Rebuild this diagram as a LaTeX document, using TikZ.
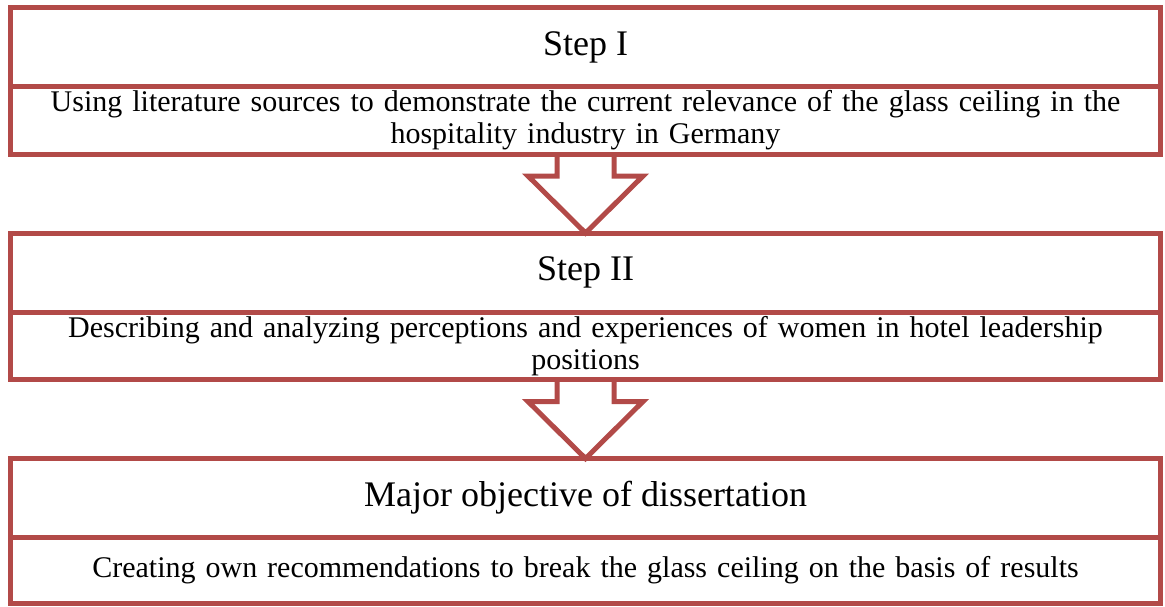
\documentclass[tikz,border=0pt]{standalone}
\usepackage{fontspec}
\setmainfont{Liberation Serif}
\usetikzlibrary{positioning}
\definecolor{stepred}{RGB}{178,74,72}

\begin{document}
\begin{tikzpicture}
	[headbox/.style={draw=stepred, line width=5pt, rectangle, outer sep=0pt,
	   minimum width=1150pt, minimum height=79pt, font=\fontsize{36}{42}\selectfont},
	 textbox/.style={draw=stepred, line width=5pt, rectangle, outer sep=0pt,
	   minimum width=1150pt, minimum height=67.5pt, text width=1140pt, align=center,
	   inner sep=0pt, font=\fontsize{30}{32}\selectfont},
	 blockarrow/.style={draw=stepred, line width=5pt}]
   \useasboundingbox (0,0) rectangle (1165pt,-606pt);
   \node[headbox] (t_1) at (585.5pt,-47pt) {Step I};
   \node[textbox] (d_1) [below=0pt of t_1] {Using literature sources to demonstrate the current relevance of the glass ceiling in the\\hospitality industry in Germany};
   \node[headbox] (t_2) [below=79pt of d_1] {Step II};
   \node[textbox] (d_2) [below=0pt of t_2] {Describing and analyzing perceptions and experiences of women in hotel leadership\\positions};
   \node[headbox] (t_3) [below=79pt of d_2] {Major objective of dissertation};
   \node[textbox, minimum height=65.5pt] (d_3) [below=0pt of t_3] {Creating own recommendations to break the glass ceiling on the basis of results};
   % block arrows between the steps
   \draw[blockarrow] ([xshift=-28.5pt]d_1.south) |- ([xshift=-57.5pt,yshift=-22pt]d_1.south)
      -- (t_2.north) -- ([xshift=57.5pt,yshift=-22pt]d_1.south) -| ([xshift=28.5pt]d_1.south);
   \draw[blockarrow] ([xshift=-28.5pt]d_2.south) |- ([xshift=-57.5pt,yshift=-22pt]d_2.south)
      -- (t_3.north) -- ([xshift=57.5pt,yshift=-22pt]d_2.south) -| ([xshift=28.5pt]d_2.south);
\end{tikzpicture}
\end{document}
